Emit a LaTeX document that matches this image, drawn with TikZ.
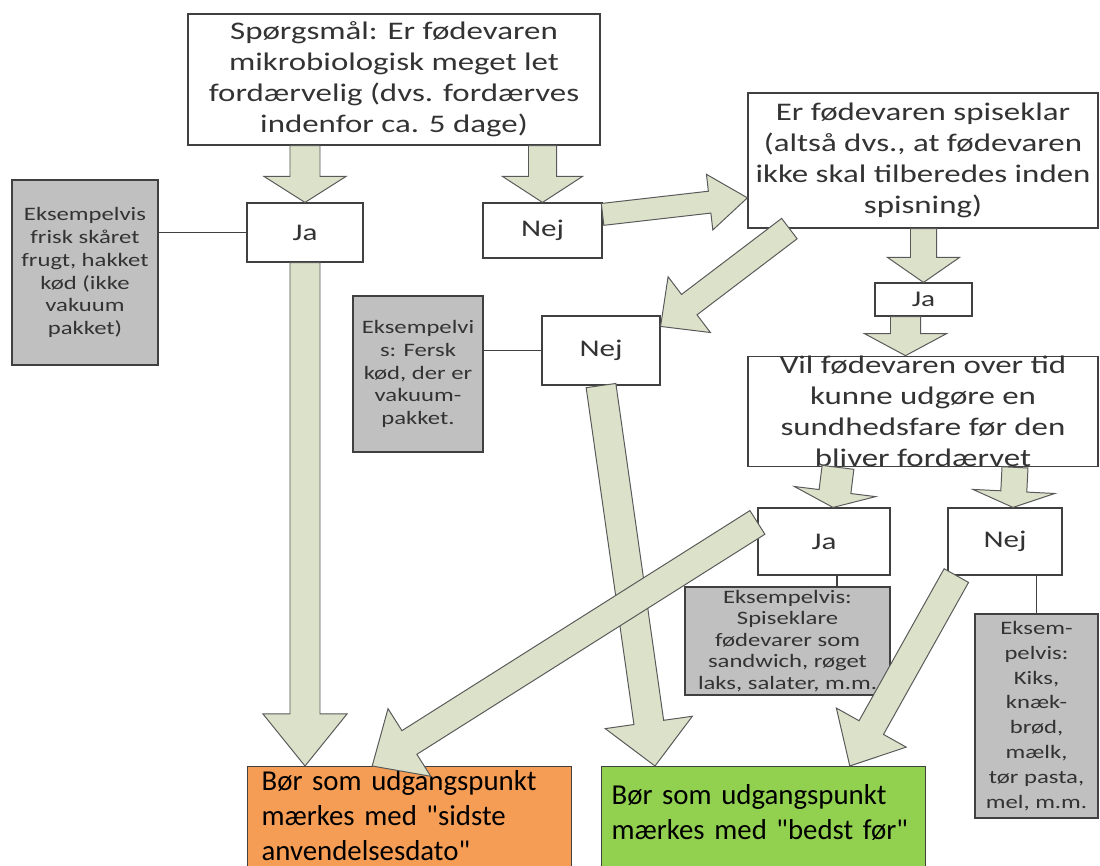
\documentclass[tikz,border=0pt]{standalone}
\usepackage{fontspec}
\setmainfont{Carlito}[Ligatures=TeXReset]
\newfontfamily\widefont[FakeStretch=1.3]{Carlito}
\usepackage{tikz}
\usetikzlibrary{calc}

\definecolor{arrowfill}{HTML}{DCE1CA}
\definecolor{exgray}{HTML}{C0C0C0}
\definecolor{orangebox}{HTML}{F69D55}
\definecolor{greenbox}{HTML}{92D050}

% shaft half width, head half width, head length, from, to
\newcommand{\blockarrow}[5]{%
  \coordinate (ba-a) at (#4);
  \coordinate (ba-b) at (#5);
  \coordinate (ba-c) at ($(ba-b)!#3!(ba-a)$);
  \filldraw[block arrow] ($(ba-a)!#1!90:(ba-b)$) -- ($(ba-c)!#1!90:(ba-b)$)
    -- ($(ba-c)!#2!90:(ba-b)$) -- (ba-b) -- ($(ba-c)!#2!-90:(ba-b)$)
    -- ($(ba-c)!#1!-90:(ba-b)$) -- ($(ba-a)!#1!-90:(ba-b)$) -- cycle;
}

\begin{document}
\begin{tikzpicture}[x=0.025cm,y=-0.025cm,
  box/.style={draw=black!75,line width=0.8pt,fill=white,inner sep=0pt,align=center,
    text=black!80,font=\widefont\fontsize{18}{22}\selectfont},
  answer/.style={box,font=\widefont\fontsize{17}{20}\selectfont},
  example/.style={box,fill=exgray,font=\widefont\fontsize{13.5}{16.3}\selectfont},
  result/.style={draw=black!75,line width=0.8pt,anchor=north west,align=left,
    text width=7.6cm,inner xsep=0.25cm,inner ysep=0.1cm,text depth=2.2cm,
    font=\fontsize{20.5}{25}\selectfont},
  link/.style={draw=black!75,line width=0.8pt},
  block arrow/.style={fill=arrowfill,draw=black!65,line width=0.7pt}]

  \useasboundingbox (0,0) rectangle (1100,866);

  \node[box,minimum width=10.3cm,minimum height=3.275cm] (q1) at (394,79.5)
    {Spørgsmål: Er fødevaren\\mikrobiologisk meget let\\fordærvelig (dvs. fordærves\\indenfor ca. 5 dage)};
  \node[answer,minimum width=2.9cm,minimum height=1.475cm] (ja1) at (305,232.5) {Ja};
  \node[answer,minimum width=2.975cm,minimum height=1.375cm] (nej1) at (542.5,230.5) {Nej};
  \node[example,minimum width=3.65cm,minimum height=4.625cm] (ex1) at (85,272.5)
    {Eksempelvis\\frisk skåret\\frugt, hakket\\kød (ikke\\vakuum\\pakket)};

  \node[box,minimum width=8.75cm,minimum height=3.375cm] (q2) at (923,160.5)
    {Er fødevaren spiseklar\\(altså dvs., at fødevaren\\ikke skal tilberedes inden\\spisning)};
  \node[answer,minimum width=2.425cm,minimum height=0.825cm,
    font=\widefont\fontsize{16}{18}\selectfont] (ja2) at (923.5,299.5) {Ja};
  \node[box,minimum width=8.75cm,minimum height=2.725cm] (q3) at (923,411.5)
    {Vil fødevaren over tid\\kunne udgøre en\\sundhedsfare før den\\bliver fordærvet};
  \node[answer,minimum width=2.95cm,minimum height=1.725cm] (nej2) at (601,350.5) {Nej};
  \node[example,minimum width=3.25cm,minimum height=3.9cm] (ex2) at (418,374)
    {Eksempelvi\\s: Fersk\\kød, der er\\vakuum-\\pakket.};

  \node[answer,minimum width=3.3cm,minimum height=1.675cm] (ja3) at (824,541.5) {Ja};
  \node[answer,minimum width=2.85cm,minimum height=1.675cm] (nej3) at (1005,541.5) {Nej};
  \node[example,minimum width=5.125cm,minimum height=2.7cm,
    font=\widefont\fontsize{13.5}{15.3}\selectfont] (ex3) at (787.5,641)
    {Eksempelvis:\\Spiseklare\\fødevarer som\\sandwich, røget\\laks, salater, m.m.};
  \node[example,minimum width=3.075cm,minimum height=5.1cm,
    font=\widefont\fontsize{13.5}{17.7}\selectfont] (ex4) at (1036.5,716)
    {Eksem-\\pelvis:\\Kiks,\\knæk-\\brød,\\mælk,\\tør pasta,\\mel, m.m.};

  \node[result,fill=orangebox,inner xsep=0.35cm,text width=7.4cm] (sad) at (247,766)
    {Bør som udgangspunkt\\mærkes med "sidste\\anvendelsesdato"};
  \node[result,fill=greenbox,text height=0.85cm] (bf) at (601,766)
    {Bør som udgangspunkt\\mærkes med "bedst før"};

  % thin links to the examples
  \draw[link] (ex1.east |- ja1.west) -- (ja1.west);
  \draw[link] (ex2.east |- nej2.west) -- (nej2.west);
  \coordinate (j3) at ($(ja3.south)+(13,0)$);
  \draw[link] (j3) -- (j3 |- ex3.north);
  \draw[link] (ex4.north) -- (ex4.north |- nej3.south);

  % block arrows
  \blockarrow{0.375cm}{1.025cm}{0.65cm}{q1.south -| ja1}{ja1.north}
  \blockarrow{0.35cm}{1cm}{0.65cm}{q1.south -| nej1}{nej1.north}
  \blockarrow{0.275cm}{0.7cm}{0.95cm}{nej1.15}{q2.192}
  \blockarrow{0.32cm}{0.875cm}{0.9cm}{q2.207}{nej2.22}
  \blockarrow{0.325cm}{0.9cm}{0.625cm}{q2.south -| ja2}{ja2.north}
  \blockarrow{0.375cm}{1.025cm}{0.55cm}{$(ja2.south)+(-18,0)$}{$(q3.north -| ja2)+(-18,0)$}
  \blockarrow{0.4cm}{1.025cm}{0.4cm}{$(q3.south -| ja3)+(14,0)$}{$(ja3.north)+(9,0)$}
  \blockarrow{0.325cm}{1.025cm}{0.4cm}{$(q3.south -| nej3)+(10,0)$}{$(nej3.north)+(8,0)$}
  \blockarrow{0.375cm}{1.05cm}{1.3cm}{ja1.south}{sad.north -| ja1}
  \blockarrow{0.375cm}{1.1cm}{1.1cm}{nej2.south}{$(bf.north west)!0.166!(bf.north east)$}
  \blockarrow{0.35cm}{1cm}{1.1cm}{ja3.164}{$(sad.north west)!0.385!(sad.north east)$}
  \blockarrow{0.35cm}{1cm}{1.1cm}{nej3.215}{$(bf.north west)!0.765!(bf.north east)$}

\end{tikzpicture}
\end{document}
